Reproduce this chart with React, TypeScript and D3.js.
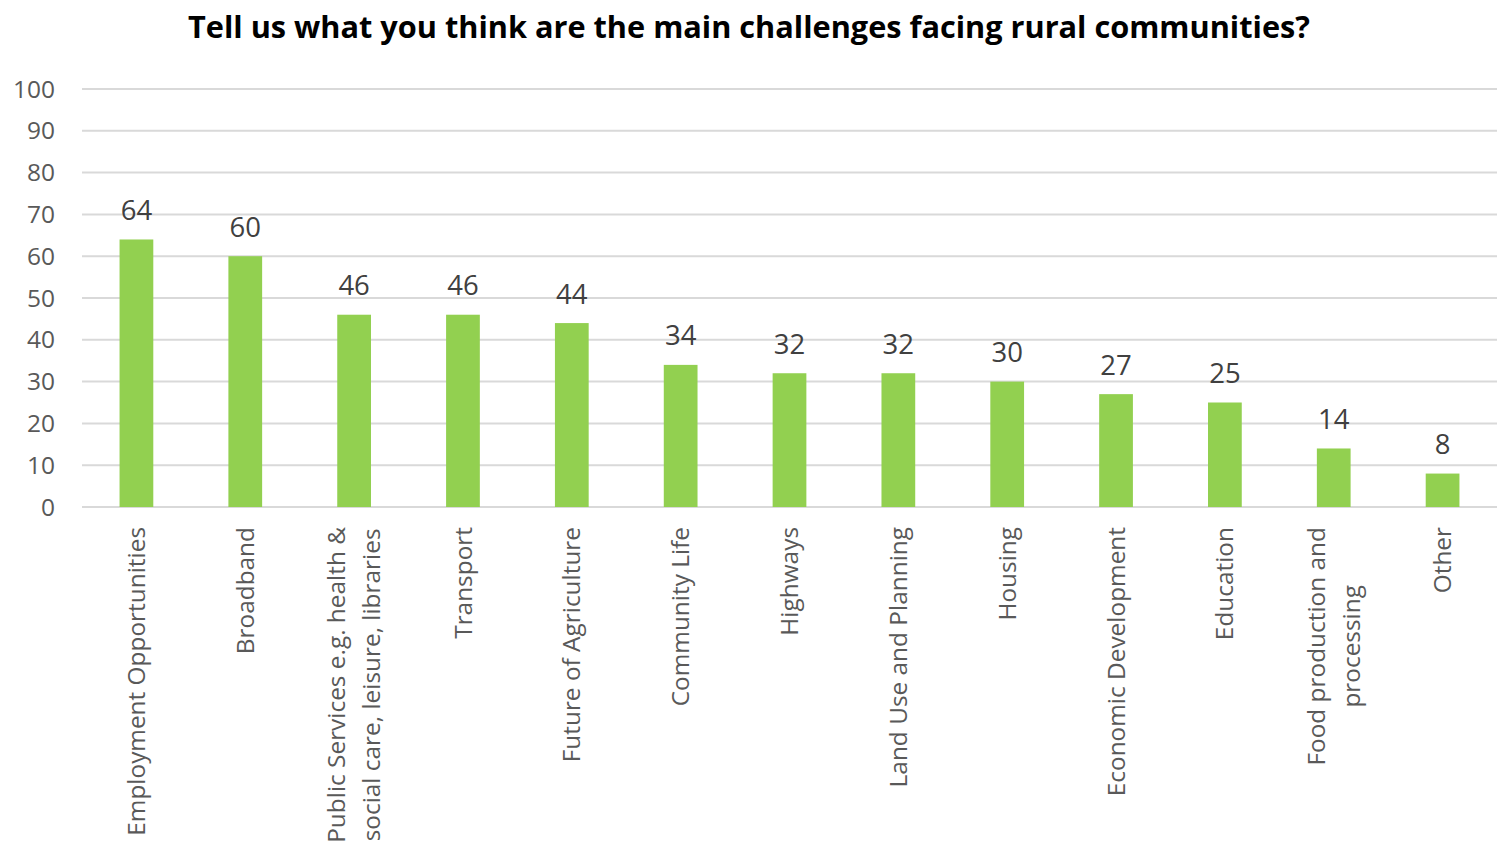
import React, { useEffect, useRef } from "react";
import * as d3 from "d3";

const categories: string[][] = [
  ["Employment Opportunities"],
  ["Broadband"],
  ["Public Services e.g. health &", "social care, leisure, libraries"],
  ["Transport"],
  ["Future of Agriculture"],
  ["Community Life"],
  ["Highways"],
  ["Land Use and Planning"],
  ["Housing"],
  ["Economic Development"],
  ["Education"],
  ["Food production and", "processing"],
  ["Other"],
];
const values: number[] = [64, 60, 46, 46, 44, 34, 32, 32, 30, 27, 25, 14, 8];
const yTicks: number[] = [0, 10, 20, 30, 40, 50, 60, 70, 80, 90, 100];
const title = "Tell us what you think are the main challenges facing rural communities?";

const W = 1503;
const H = 842;
const FONT = "'Open Sans', Lato, sans-serif";

export default function App() {
  const ref = useRef<SVGSVGElement | null>(null);

  useEffect(() => {
    const svg = d3.select(ref.current);
    svg.selectAll("*").remove();

    const left = 82, right = 1497, top = 89, bottom = 507;
    const x = d3
      .scaleBand<number>()
      .domain(d3.range(categories.length))
      .range([left, right])
      .paddingInner(0.69)
      .paddingOuter(0.345);
    const y = d3.scaleLinear().domain([0, 100]).range([bottom, top]);

    svg
      .append("text")
      .attr("x", 749)
      .attr("y", 38)
      .attr("text-anchor", "middle")
      .attr("font-family", FONT)
      .attr("font-weight", "bold")
      .attr("font-size", 30.7)
      .attr("fill", "#000")
      .text(title);

    const grid = svg.append("g");
    grid
      .selectAll("line")
      .data(yTicks)
      .join("line")
      .attr("x1", left)
      .attr("x2", right)
      .attr("y1", (d) => y(d))
      .attr("y2", (d) => y(d))
      .attr("stroke", "#d9d9d9")
      .attr("stroke-width", 2);

    grid
      .selectAll("text")
      .data(yTicks)
      .join("text")
      .attr("x", 55)
      .attr("y", (d) => y(d))
      .attr("dy", "0.35em")
      .attr("text-anchor", "end")
      .attr("font-family", FONT)
      .attr("font-size", 24.5)
      .attr("fill", "#595959")
      .text((d) => d);

    const bars = svg.append("g");
    bars
      .selectAll("rect")
      .data(values)
      .join("rect")
      .attr("x", (_d, i) => x(i)!)
      .attr("width", x.bandwidth())
      .attr("y", (d) => y(d))
      .attr("height", (d) => bottom - y(d))
      .attr("fill", "#92d050");

    bars
      .selectAll("text")
      .data(values)
      .join("text")
      .attr("x", (_d, i) => x(i)! + x.bandwidth() / 2)
      .attr("y", (d) => y(d) - 19.5)
      .attr("text-anchor", "middle")
      .attr("font-family", FONT)
      .attr("font-size", 27.5)
      .attr("fill", "#404040")
      .text((d) => d);

    const labels = svg.append("g");
    const labelTop = 527;
    const lineH = 35;
    categories.forEach((lines, i) => {
      const cx = x(i)! + x.bandwidth() / 2;
      const g = labels.append("g");
      const texts = lines.map((ln) =>
        g
          .append("text")
          .attr("font-family", FONT)
          .attr("font-size", 24.4)
          .attr("fill", "#595959")
          .text(ln)
      );
      const lens = texts.map((t) => (t.node() as SVGTextElement).getComputedTextLength());
      const maxLen = Math.max(...lens);
      const n = lines.length;
      texts.forEach((t, j) => {
        const lx = cx + (j - (n - 1) / 2) * lineH;
        const ly = labelTop + maxLen / 2;
        t.attr("text-anchor", "middle")
          .attr("dy", "0.35em")
          .attr("transform", `translate(${lx},${ly}) rotate(-90)`);
      });
    });
  }, []);

  return (
    <svg
      ref={ref}
      width={W}
      height={H}
      style={{ position: "absolute", left: 0, top: 0, background: "#fff" }}
    />
  );
}
